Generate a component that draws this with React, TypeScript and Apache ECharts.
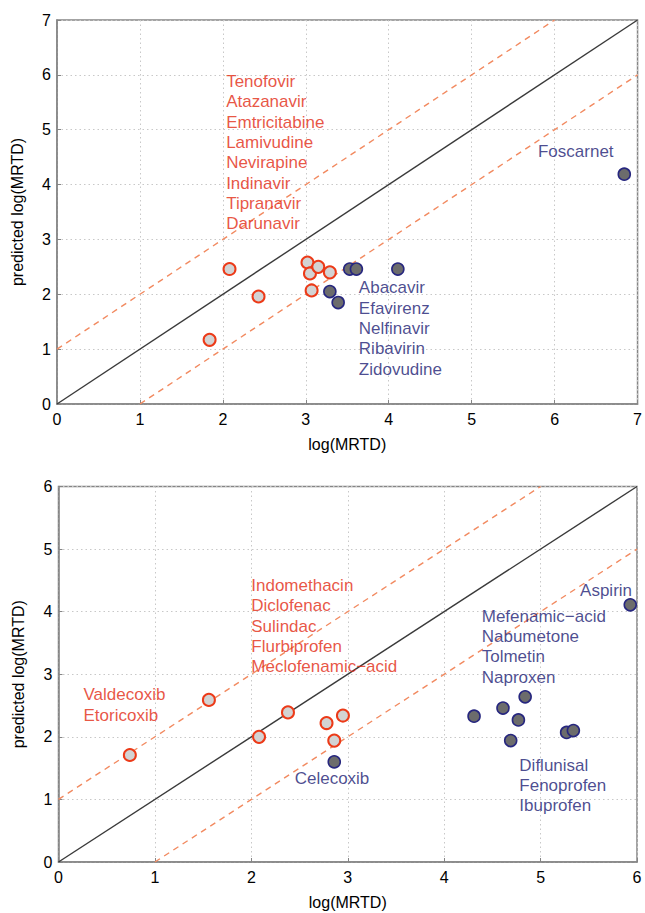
import React, { useEffect, useRef } from "react";
import * as echarts from "echarts";

// ---- Data ----
// Top panel: antiretrovirals
const hivRedX = [1.84, 2.08, 2.43, 3.02, 3.05, 3.07, 3.15, 3.29];
const hivRedY = [1.17, 2.46, 1.96, 2.58, 2.38, 2.07, 2.5, 2.4];
const hivBlueX = [3.29, 3.39, 3.53, 3.61, 4.11, 6.84];
const hivBlueY = [2.05, 1.85, 2.46, 2.46, 2.46, 4.19];

// Bottom panel: NSAIDs
const nsaidRedX = [0.74, 1.56, 2.08, 2.38, 2.78, 2.86, 2.95];
const nsaidRedY = [1.71, 2.59, 2.0, 2.39, 2.22, 1.94, 2.34];
const nsaidBlueX = [2.86, 4.31, 4.61, 4.69, 4.77, 4.84, 5.27, 5.34, 5.93];
const nsaidBlueY = [1.6, 2.33, 2.46, 1.94, 2.27, 2.64, 2.07, 2.1, 4.11];

// Axis ranges / ticks
const topMax = 7;
const bottomMax = 6;
const tickStep = 1;

// Name groups
const hivRedNames = ["Tenofovir", "Atazanavir", "Emtricitabine", "Lamivudine", "Nevirapine", "Indinavir", "Tipranavir", "Darunavir"];
const hivBlueNames = ["Abacavir", "Efavirenz", "Nelfinavir", "Ribavirin", "Zidovudine"];
const hivOutlierNames = ["Foscarnet"];
const coxibNames = ["Valdecoxib", "Etoricoxib"];
const nsaidRedNames = ["Indomethacin", "Diclofenac", "Sulindac", "Flurbiprofen", "Meclofenamic\u2212acid"];
const celecoxibNames = ["Celecoxib"];
const aspirinNames = ["Aspirin"];
const nsaidBlueNames = ["Mefenamic\u2212acid", "Nabumetone", "Tolmetin", "Naproxen"];
const nsaidLowNames = ["Diflunisal", "Fenoprofen", "Ibuprofen"];

// Annotation anchors (data coordinates of text block top-left)
const topAnnotations = [
  { names: hivRedNames, at: [2.04, 6.06], red: true },
  { names: hivBlueNames, at: [3.64, 2.3], red: false },
  { names: hivOutlierNames, at: [5.8, 4.78], red: false },
];
const bottomAnnotations = [
  { names: coxibNames, at: [0.26, 2.83], red: true },
  { names: nsaidRedNames, at: [2.0, 4.58], red: true },
  { names: celecoxibNames, at: [2.45, 1.49], red: false },
  { names: aspirinNames, at: [5.41, 4.5], red: false },
  { names: nsaidBlueNames, at: [4.39, 4.09], red: false },
  { names: nsaidLowNames, at: [4.78, 1.71], red: false },
];

const FONT = "'Liberation Sans', Arial, Helvetica, sans-serif";
const RED_TEXT = "#e22a12";
const BLUE_TEXT = "#1d1d74";
const RED_EDGE = "#ec3a18";
const RED_FILL = "#d3d3d3";
const BLUE_EDGE = "#27277f";
const BLUE_FILL = "#6c6c6c";
const DASH = "#f28a60";
const AXIS = "#858585";

function zip(xs: number[], ys: number[]) {
  return xs.map((x, i) => [x, ys[i]]);
}

function makeAxis(gridIndex: number, max: number, isX: boolean) {
  return {
    type: "value",
    gridIndex,
    min: 0,
    max,
    interval: tickStep,
    name: isX ? "log(MRTD)" : "predicted log(MRTD)",
    nameLocation: "middle",
    nameGap: isX ? 32 : 32,
    nameTextStyle: { fontFamily: FONT, fontSize: 16, color: "#000" },
    axisLine: { show: true, lineStyle: { color: AXIS, width: 1.5 } },
    axisTick: { show: true, inside: true, length: 4, lineStyle: { color: AXIS, width: 1 } },
    axisLabel: { fontFamily: FONT, fontSize: 16, color: "#000", margin: isX ? 7 : 6 },
    splitLine: { show: true, lineStyle: { color: "#c8c8c8", width: 1, type: [1.5, 3] } },
  };
}

function panelSeries(
  idx: number,
  max: number,
  redX: number[],
  redY: number[],
  blueX: number[],
  blueY: number[],
  annotations: { names: string[]; at: number[]; red: boolean }[]
) {
  const axes = { xAxisIndex: idx, yAxisIndex: idx };
  const identity = [
    [0, 0],
    [max, max],
  ];
  const upper = [
    [0, 1],
    [max - 1, max],
  ];
  const lower = [
    [1, 0],
    [max, max - 1],
  ];
  const lineBase = { type: "line", ...axes, symbol: "none", silent: true, z: 2 };
  return [
    { ...lineBase, data: identity, lineStyle: { color: "#3a3a3a", width: 1.4 } },
    { ...lineBase, data: upper, lineStyle: { color: DASH, width: 1.4, type: [6, 5] } },
    { ...lineBase, data: lower, lineStyle: { color: DASH, width: 1.4, type: [6, 5] } },
    {
      type: "scatter",
      ...axes,
      z: 3,
      symbolSize: 12,
      data: zip(redX, redY),
      itemStyle: { color: RED_FILL, borderColor: RED_EDGE, borderWidth: 2, opacity: 1 },
    },
    {
      type: "scatter",
      ...axes,
      z: 3,
      symbolSize: 12,
      data: zip(blueX, blueY),
      itemStyle: { color: BLUE_FILL, borderColor: BLUE_EDGE, borderWidth: 1.6, opacity: 1 },
    },
    {
      type: "scatter",
      ...axes,
      z: 4,
      silent: true,
      symbolSize: 0.1,
      itemStyle: { color: "transparent" },
      data: annotations.map((a) => ({
        value: a.at,
        label: {
          show: true,
          position: [0, 0],
          align: "left",
          verticalAlign: "top",
          fontFamily: FONT,
          fontSize: 17,
          lineHeight: 20.3,
          color: a.red ? RED_TEXT : BLUE_TEXT,
          formatter: a.names.join("\n"),
        },
      })),
    },
  ];
}

export default function App() {
  const ref = useRef<HTMLDivElement>(null);
  useEffect(() => {
    if (!ref.current) return;
    const chart = echarts.init(ref.current, null, { renderer: "svg" });
    chart.setOption({
      animation: false,
      backgroundColor: "#ffffff",
      grid: [
        { left: 57, top: 20, width: 581, height: 384, show: true, borderColor: AXIS, borderWidth: 1.5 },
        { left: 58.5, top: 486.5, width: 578.5, height: 375.5, show: true, borderColor: AXIS, borderWidth: 1.5 },
      ],
      xAxis: [makeAxis(0, topMax, true), makeAxis(1, bottomMax, true)],
      yAxis: [makeAxis(0, topMax, false), makeAxis(1, bottomMax, false)],
      series: [
        ...panelSeries(0, topMax, hivRedX, hivRedY, hivBlueX, hivBlueY, topAnnotations),
        ...panelSeries(1, bottomMax, nsaidRedX, nsaidRedY, nsaidBlueX, nsaidBlueY, bottomAnnotations),
      ],
    });
    return () => chart.dispose();
  }, []);
  return (
    <div
      ref={ref}
      style={{ position: "absolute", left: 0, top: 0, width: 645, height: 913, background: "#fff" }}
    />
  );
}
